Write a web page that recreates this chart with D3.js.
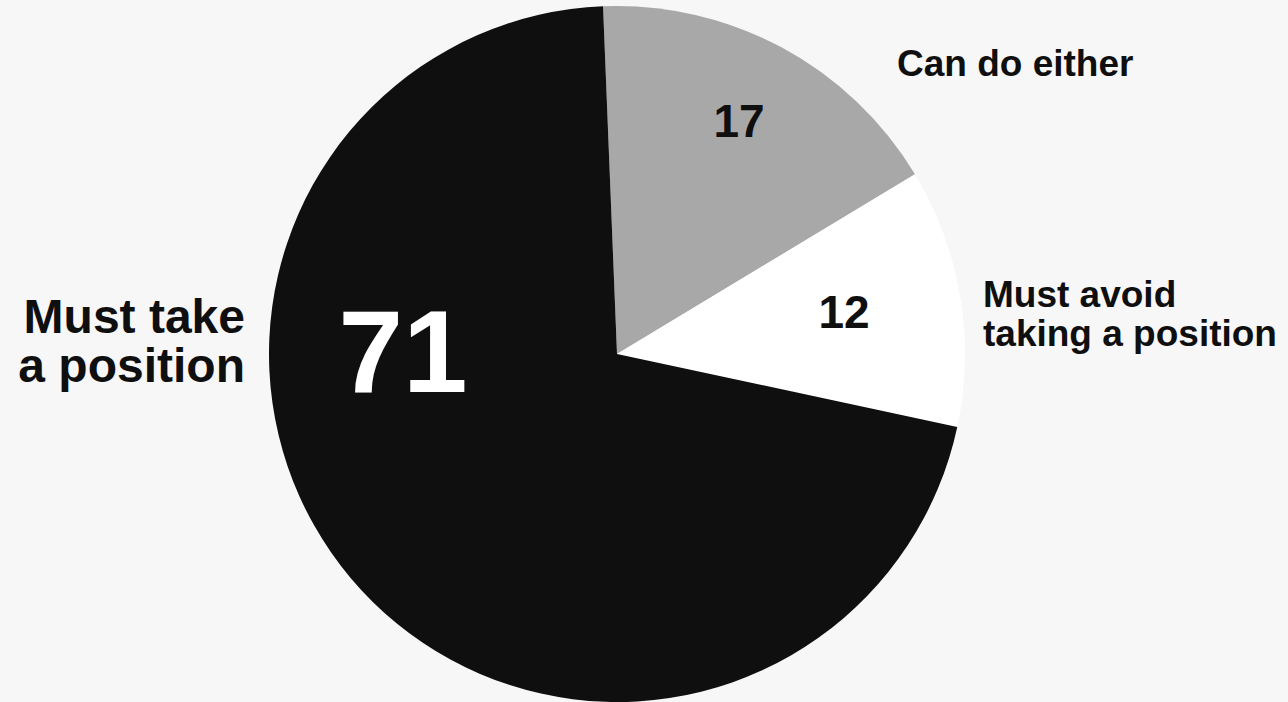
<!DOCTYPE html>
<html><head><meta charset="utf-8">
<script src="https://cdn.jsdelivr.net/npm/d3@7"></script>
<style>html,body{margin:0;padding:0;background:#f7f7f7;}svg{display:block;}</style>
</head><body>
<svg id="c" width="1288" height="702"></svg>
<script>
const categories = ["Can do either", "Must avoid taking a position", "Must take a position"];
const values = [17, 12, 71];
const colors = ["#a8a8a8", "#ffffff", "#0f0f0f"];
const labelLines = [["Can do either"], ["Must avoid", "taking a position"], ["Must take", "a position"]];

const W = 1288, H = 702, cx = 617, cy = 354, R = 348;
const svg = d3.select("#c");
svg.append("rect").attr("width", W).attr("height", H).attr("fill", "#f7f7f7");
const g = svg.append("g").attr("transform", `translate(${cx},${cy})`);

const start = -2.3 * Math.PI / 180;
const pie = d3.pie().sort(null).value(d => d.v).startAngle(start).endAngle(start + 2 * Math.PI);
const arcs = pie(values.map((v, i) => ({ v, i })));
const arc = d3.arc().innerRadius(0).outerRadius(R);

g.selectAll("path.slice").data(arcs).enter().append("path")
  .attr("class", "slice").attr("d", arc)
  .attr("fill", d => colors[d.data.i]);

// value labels (offsets from centre)
const valuePos = [[122, -217, 46, "#0f0f0f"], [227, -26, 46, "#0f0f0f"], [-214, 38, 116, "#ffffff"]];
g.selectAll("text.val").data(arcs).enter().append("text")
  .attr("class", "val")
  .attr("x", d => valuePos[d.data.i][0])
  .attr("y", d => valuePos[d.data.i][1])
  .attr("text-anchor", "middle")
  .attr("font-family", "'Liberation Sans', Arial, sans-serif")
  .attr("font-weight", "bold")
  .attr("font-size", d => valuePos[d.data.i][2])
  .attr("fill", d => valuePos[d.data.i][3])
  .text(d => d.data.v);

// category labels
const catPos = [[897, 76, "start", 37, 0], [983, 307, "start", 37, 39], [245, 333, "end", 48, 48.5]];
categories.forEach((c, i) => {
  const p = catPos[i];
  const t = svg.append("text")
    .attr("x", p[0]).attr("y", p[1])
    .attr("text-anchor", p[2])
    .attr("font-family", "'Liberation Sans', Arial, sans-serif")
    .attr("font-weight", "bold")
    .attr("font-size", p[3])
    .attr("fill", "#0f0f0f");
  labelLines[i].forEach((ln, j) => {
    t.append("tspan").attr("x", p[0]).attr("y", p[1] + j * p[4]).text(ln);
  });
});
</script>
</body></html>
